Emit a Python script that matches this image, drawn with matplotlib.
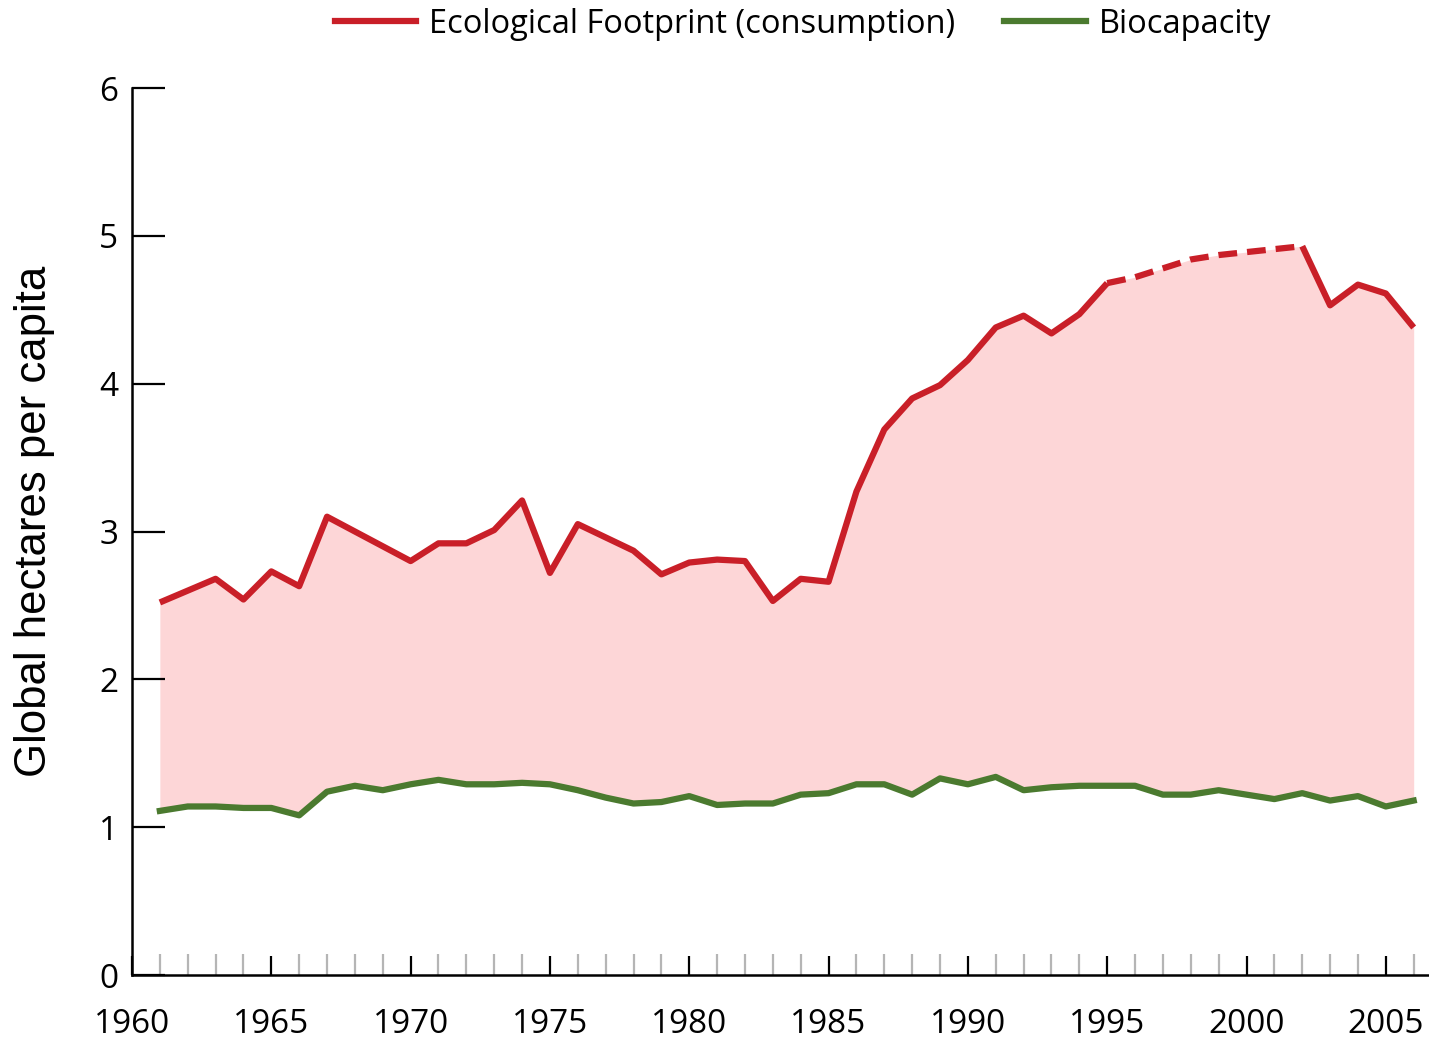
import matplotlib.pyplot as plt
from matplotlib.lines import Line2D
import numpy as np

years = list(range(1961, 2007))

# Ecological Footprint (consumption), gha per capita
footprint = [2.52, 2.60, 2.68, 2.54, 2.73, 2.63, 3.10, 3.00, 2.90, 2.80,
             2.92, 2.92, 3.01, 3.21, 2.72, 3.05, 2.96, 2.87, 2.71, 2.79,
             2.81, 2.80, 2.53, 2.68, 2.66, 3.27, 3.69, 3.90, 3.99, 4.16,
             4.38, 4.46, 4.34, 4.47, 4.68, 4.72, 4.78, 4.84, 4.87, 4.89,
             4.91, 4.93, 4.53, 4.67, 4.61, 4.38]

# Biocapacity, gha per capita
biocapacity = [1.11, 1.14, 1.14, 1.13, 1.13, 1.08, 1.24, 1.28, 1.25, 1.29,
               1.32, 1.29, 1.29, 1.30, 1.29, 1.25, 1.20, 1.16, 1.17, 1.21,
               1.15, 1.16, 1.16, 1.22, 1.23, 1.29, 1.29, 1.22, 1.33, 1.29,
               1.34, 1.25, 1.27, 1.28, 1.28, 1.28, 1.22, 1.22, 1.25, 1.22,
               1.19, 1.23, 1.18, 1.21, 1.14, 1.18]

# years where the footprint series is estimated (dashed)
dashed_from, dashed_to = 1995, 2002

red = '#c91f28'
green = '#4b7a2f'
pink = '#fdd6d7'
font = 'Open Sans'

fig = plt.figure(figsize=(14.29, 10.42), dpi=100)
ax = fig.add_axes([132 / 1429, 1 - 975 / 1042, 1 - 132 / 1429, (975 - 88) / 1042])

yr = np.array(years)
fp = np.array(footprint)
bc = np.array(biocapacity)

ax.fill_between(yr, bc, fp, color=pink, lw=0)

i0 = years.index(dashed_from)
i1 = years.index(dashed_to)
lw = 4.5
ax.plot(yr[:i0 + 1], fp[:i0 + 1], color=red, lw=lw, solid_joinstyle='round', solid_capstyle='butt')
ax.plot(yr[i0:i1 + 1], fp[i0:i1 + 1], color=red, lw=lw, ls=(0, (3, 1.6)), dash_capstyle='butt')
ax.plot(yr[i1:], fp[i1:], color=red, lw=lw, solid_joinstyle='round', solid_capstyle='butt')
ax.plot(yr, bc, color=green, lw=lw, solid_joinstyle='round')

ax.set_xlim(1960, 2006.55)
ax.set_ylim(0, 6)

for s in ['top', 'right']:
    ax.spines[s].set_visible(False)
for s in ['left', 'bottom']:
    ax.spines[s].set_linewidth(1.8)
    ax.spines[s].set_color('black')

ax.set_yticks(range(0, 7))
ax.set_xticks(range(1960, 2006, 5))
ax.set_xticks(range(1961, 2007), minor=True)
ax.tick_params(axis='y', direction='in', length=24, width=1.6, pad=10,
               labelsize=24, colors='black')
ax.tick_params(axis='x', which='major', direction='in', length=14, width=1.6,
               pad=24, labelsize=24)
ax.tick_params(axis='x', which='minor', direction='in', length=15, width=1.6,
               color='#b5b5b5')
for lab in ax.get_xticklabels() + ax.get_yticklabels():
    lab.set_fontfamily(font)

fig.text(35 / 1429, 1 - 521 / 1042, 'Global hectares per capita', rotation=90,
         ha='center', va='center', fontsize=31.5, family='Liberation Sans')

handles = [Line2D([], [], color=red, lw=lw),
           Line2D([], [], color=green, lw=lw)]
fig.legend(handles, ['Ecological Footprint (consumption)', 'Biocapacity'],
           loc='center', bbox_to_anchor=(803 / 1429, 1 - 24 / 1042), ncol=2,
           frameon=False, handlelength=2.5, handletextpad=0.4, columnspacing=1.5,
           prop={'family': font, 'size': 23.5})

fig.savefig('out.png', dpi=100)
